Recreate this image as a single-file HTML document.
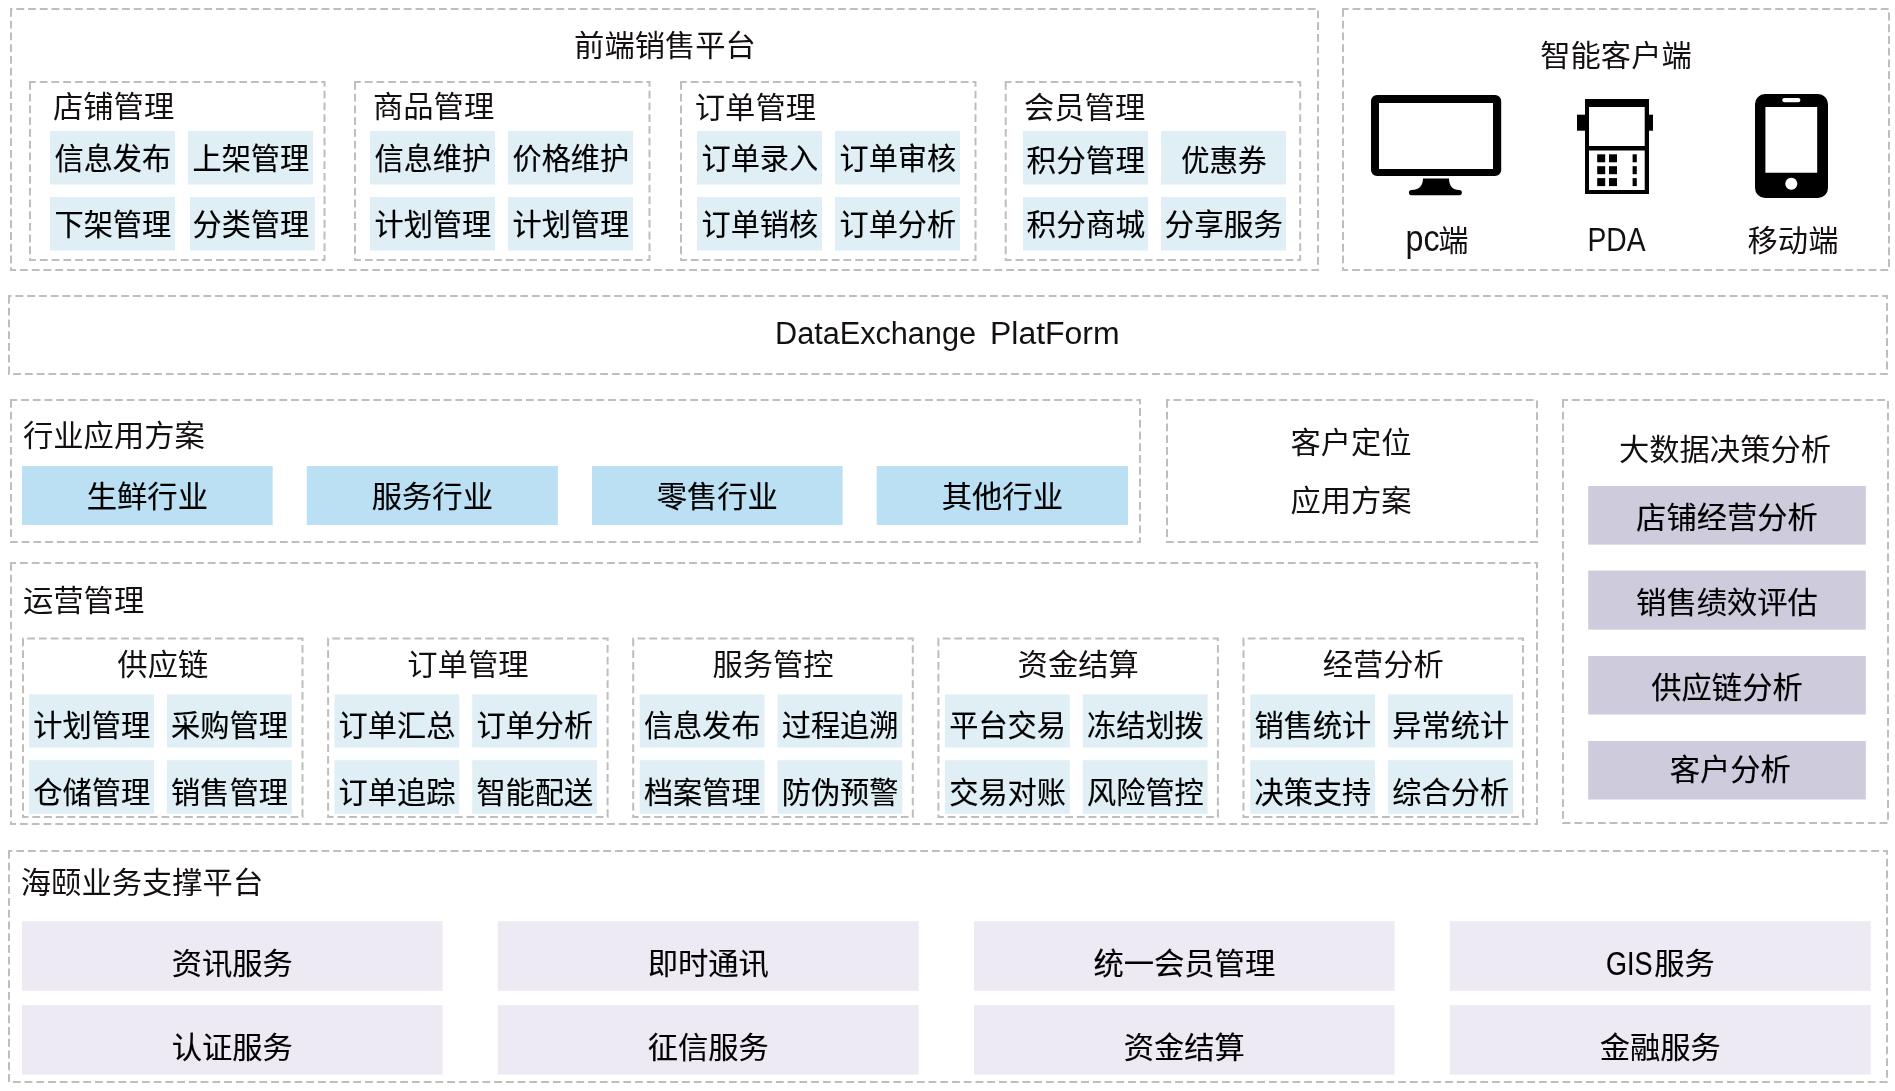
<!DOCTYPE html>
<html lang="zh-CN">
<head>
<meta charset="utf-8">
<title>平台架构图</title>
<style>
html,body{margin:0;padding:0;background:#fff;}
body{width:1895px;height:1091px;overflow:hidden;}
svg{display:block;will-change:transform;}
text{font-family:"Liberation Sans", "Noto Sans CJK SC", sans-serif;font-size:29.2px;fill:#141010;}
.k{fill:#000;stroke:#000;stroke-width:.15px;}
.d{fill:none;stroke:#c0bebc;stroke-width:2;stroke-dasharray:7.83 3.91;}
.c1{fill:#dfeff5;}
.c2{fill:#bbe0f4;}
.c3{fill:#cecbdd;}
.c4{fill:#eeeaf4;}
</style>
</head>
<body>
<svg width="1895" height="1091" viewBox="0 0 1895 1091">
<path class="d" d="M11 9V270H1318V9Z"/>
<text x="665" y="56" text-anchor="middle" textLength="181.8" lengthAdjust="spacingAndGlyphs">前端销售平台</text>
<path class="d" d="M30 82V260H324.5V82Z"/>
<text x="53" y="117" textLength="121.2" lengthAdjust="spacingAndGlyphs">店铺管理</text>
<rect class="c1" x="50" y="131" width="125" height="53.5"/>
<text x="112.8" y="169.4" text-anchor="middle" textLength="116.6" lengthAdjust="spacingAndGlyphs" class="k">信息发布</text>
<rect class="c1" x="188" y="131" width="125" height="53.5"/>
<text x="250.8" y="169.4" text-anchor="middle" textLength="116.6" lengthAdjust="spacingAndGlyphs" class="k">上架管理</text>
<rect class="c1" x="50" y="197" width="125" height="53.5"/>
<text x="112.8" y="235.4" text-anchor="middle" textLength="116.6" lengthAdjust="spacingAndGlyphs" class="k">下架管理</text>
<rect class="c1" x="190" y="197" width="125" height="53.5"/>
<text x="250.8" y="235.4" text-anchor="middle" textLength="116.6" lengthAdjust="spacingAndGlyphs" class="k">分类管理</text>
<path class="d" d="M355 82V260H649.5V82Z"/>
<text x="373" y="117" textLength="121.2" lengthAdjust="spacingAndGlyphs">商品管理</text>
<rect class="c1" x="370" y="131" width="125" height="53.5"/>
<text x="432.8" y="169.4" text-anchor="middle" textLength="116.6" lengthAdjust="spacingAndGlyphs" class="k">信息维护</text>
<rect class="c1" x="508" y="131" width="125" height="53.5"/>
<text x="570.8" y="169.4" text-anchor="middle" textLength="116.6" lengthAdjust="spacingAndGlyphs" class="k">价格维护</text>
<rect class="c1" x="370" y="197" width="125" height="53.5"/>
<text x="432.8" y="235.4" text-anchor="middle" textLength="116.6" lengthAdjust="spacingAndGlyphs" class="k">计划管理</text>
<rect class="c1" x="508" y="197" width="125" height="53.5"/>
<text x="570.8" y="235.4" text-anchor="middle" textLength="116.6" lengthAdjust="spacingAndGlyphs" class="k">计划管理</text>
<path class="d" d="M681 82V260H975.5V82Z"/>
<text x="694.8" y="118" textLength="121.2" lengthAdjust="spacingAndGlyphs">订单管理</text>
<rect class="c1" x="697" y="131" width="125" height="53.5"/>
<text x="759.8" y="169.4" text-anchor="middle" textLength="116.6" lengthAdjust="spacingAndGlyphs" class="k">订单录入</text>
<rect class="c1" x="835" y="131" width="125" height="53.5"/>
<text x="897.8" y="169.4" text-anchor="middle" textLength="116.6" lengthAdjust="spacingAndGlyphs" class="k">订单审核</text>
<rect class="c1" x="697" y="197" width="125" height="53.5"/>
<text x="759.8" y="235.4" text-anchor="middle" textLength="116.6" lengthAdjust="spacingAndGlyphs" class="k">订单销核</text>
<rect class="c1" x="835" y="197" width="125" height="53.5"/>
<text x="897.8" y="235.4" text-anchor="middle" textLength="116.6" lengthAdjust="spacingAndGlyphs" class="k">订单分析</text>
<path class="d" d="M1005.7 82V260H1300.2V82Z"/>
<text x="1024" y="118" textLength="121.2" lengthAdjust="spacingAndGlyphs">会员管理</text>
<rect class="c1" x="1023" y="131" width="125" height="53.5"/>
<text x="1085.8" y="170.6" text-anchor="middle" textLength="118.4" lengthAdjust="spacingAndGlyphs" class="k">积分管理</text>
<rect class="c1" x="1161" y="131" width="125" height="53.5"/>
<text x="1223.8" y="170.6" text-anchor="middle" textLength="85.5" lengthAdjust="spacingAndGlyphs" class="k">优惠券</text>
<rect class="c1" x="1023" y="197" width="125" height="53.5"/>
<text x="1085.8" y="235.4" text-anchor="middle" textLength="118.4" lengthAdjust="spacingAndGlyphs" class="k">积分商城</text>
<rect class="c1" x="1161" y="197" width="125" height="53.5"/>
<text x="1223.8" y="235.4" text-anchor="middle" textLength="118.4" lengthAdjust="spacingAndGlyphs" class="k">分享服务</text>
<path class="d" d="M1343 9V270H1889V9Z"/>
<text x="1616" y="66" text-anchor="middle" textLength="151.5" lengthAdjust="spacingAndGlyphs">智能客户端</text>
<text x="1405.5" y="251" style="font-size:37px" textLength="34" lengthAdjust="spacingAndGlyphs">pc</text>
<text x="1438.2" y="251" textLength="30.3" lengthAdjust="spacingAndGlyphs">端</text>
<text x="1587.5" y="251" style="font-size:33px" textLength="58" lengthAdjust="spacingAndGlyphs">PDA</text>
<text x="1793" y="251" text-anchor="middle" textLength="90.9" lengthAdjust="spacingAndGlyphs">移动端</text>
<g fill="#000">
<path fill-rule="evenodd" d="M1377 95h118.200a6 6 0 0 1 6 6v69a6 6 0 0 1-6 6H1377a6 6 0 0 1-6-6v-69a6 6 0 0 1 6-6zM1379 103v66h114v-66z"/>
<path d="M1423 178.500h26c0 7 3.500 11.500 10.300 11.500a2.600 2.600 0 0 1 0 5.200h-47.800a2.600 2.600 0 0 1 0-5.200c7.500 0 11.500-4.500 11.500-11.500z"/>
<path fill-rule="evenodd" d="M1585 99h64v95h-64zM1589 107v39h55.700v-39zM1589 150.400v39.600h55.700v-39.600z"/>
<rect x="1577" y="114.700" width="8.500" height="16"/><rect x="1648.500" y="114.700" width="4.500" height="16"/>
<rect x="1597.200" y="154.3" width="8" height="8"/><rect x="1609" y="154.3" width="8" height="8"/><rect x="1632.600" y="154.3" width="4.200" height="8"/>
<rect x="1597.200" y="166.2" width="8" height="8"/><rect x="1609" y="166.2" width="8" height="8"/><rect x="1632.600" y="166.2" width="4.200" height="8"/>
<rect x="1597.200" y="178.1" width="8" height="8"/><rect x="1609" y="178.1" width="8" height="8"/><rect x="1632.600" y="178.1" width="4.200" height="8"/>
<path fill-rule="evenodd" d="M1765 94h53a10 10 0 0 1 10 10v84a10 10 0 0 1-10 10h-53a10 10 0 0 1-10-10v-84a10 10 0 0 1 10-10zM1765.400 107v65.800h51.800v-65.800zM1784.400 97.900a2.200 2.200 0 0 0 0 4.400h13.800a2.200 2.200 0 0 0 0-4.400zM1791.300 177.700a6 6 0 1 0 0.001 0z"/>
</g>
<path class="d" d="M9 296V374H1887V296Z"/>
<text x="775" y="344.3" style="font-size:30.6px" textLength="201" lengthAdjust="spacingAndGlyphs">DataExchange</text>
<text x="990" y="344.3" style="font-size:30.6px" textLength="129.5" lengthAdjust="spacingAndGlyphs">PlatForm</text>
<path class="d" d="M11 400V542H1140V400Z"/>
<text x="23" y="446" textLength="181.8" lengthAdjust="spacingAndGlyphs">行业应用方案</text>
<rect class="c2" x="22" y="466" width="250.7" height="59"/>
<text x="147.35" y="507" text-anchor="middle" textLength="121.2" lengthAdjust="spacingAndGlyphs" class="k">生鲜行业</text>
<rect class="c2" x="306.8" y="466" width="251.1" height="59"/>
<text x="432.35" y="507" text-anchor="middle" textLength="121.2" lengthAdjust="spacingAndGlyphs" class="k">服务行业</text>
<rect class="c2" x="592" y="466" width="250.6" height="59"/>
<text x="717.3" y="507" text-anchor="middle" textLength="121.2" lengthAdjust="spacingAndGlyphs" class="k">零售行业</text>
<rect class="c2" x="876.7" y="466" width="251.3" height="59"/>
<text x="1002.35" y="507" text-anchor="middle" textLength="121.2" lengthAdjust="spacingAndGlyphs" class="k">其他行业</text>
<path class="d" d="M1167 400V542H1537V400Z"/>
<text x="1351" y="453" text-anchor="middle" textLength="121.2" lengthAdjust="spacingAndGlyphs">客户定位</text>
<text x="1351" y="511" text-anchor="middle" textLength="121.2" lengthAdjust="spacingAndGlyphs">应用方案</text>
<path class="d" d="M1563 400V823H1888V400Z"/>
<text x="1725" y="460" text-anchor="middle" textLength="212.1" lengthAdjust="spacingAndGlyphs">大数据决策分析</text>
<rect class="c3" x="1588.2" y="486" width="277.6" height="58.6"/>
<text x="1727" y="527.8000000000001" text-anchor="middle" textLength="181.8" lengthAdjust="spacingAndGlyphs" class="k">店铺经营分析</text>
<rect class="c3" x="1588.2" y="570.6" width="277.6" height="59.0"/>
<text x="1727" y="612.8000000000001" text-anchor="middle" textLength="181.8" lengthAdjust="spacingAndGlyphs" class="k">销售绩效评估</text>
<rect class="c3" x="1588.2" y="656" width="277.6" height="58.5"/>
<text x="1727" y="697.7" text-anchor="middle" textLength="151.5" lengthAdjust="spacingAndGlyphs" class="k">供应链分析</text>
<rect class="c3" x="1588.2" y="741" width="277.6" height="58.5"/>
<text x="1730.3" y="779.5" text-anchor="middle" textLength="121.2" lengthAdjust="spacingAndGlyphs" class="k">客户分析</text>
<path class="d" d="M11 563V824H1537V563Z"/>
<text x="23" y="611" textLength="121.2" lengthAdjust="spacingAndGlyphs">运营管理</text>
<path class="d" d="M23.0 638.5V817H302.5V638.5Z"/>
<text x="162.8" y="675" text-anchor="middle" textLength="90.9" lengthAdjust="spacingAndGlyphs">供应链</text>
<rect class="c1" x="29.1" y="694.4" width="124.8" height="53.1"/>
<text x="91.7" y="736.0" text-anchor="middle" textLength="116.8" lengthAdjust="spacingAndGlyphs" class="k">计划管理</text>
<rect class="c1" x="166.9" y="694.4" width="124.8" height="53.1"/>
<text x="229.5" y="736.0" text-anchor="middle" textLength="116.8" lengthAdjust="spacingAndGlyphs" class="k">采购管理</text>
<rect class="c1" x="29.1" y="760.2" width="124.8" height="53.6"/>
<text x="91.7" y="802.8" text-anchor="middle" textLength="116.8" lengthAdjust="spacingAndGlyphs" class="k">仓储管理</text>
<rect class="c1" x="166.9" y="760.2" width="124.8" height="53.6"/>
<text x="229.5" y="802.8" text-anchor="middle" textLength="116.8" lengthAdjust="spacingAndGlyphs" class="k">销售管理</text>
<path class="d" d="M328.1 638.5V817H607.6V638.5Z"/>
<text x="467.9" y="675" text-anchor="middle" textLength="121.2" lengthAdjust="spacingAndGlyphs">订单管理</text>
<rect class="c1" x="334.4" y="694.4" width="124.8" height="53.1"/>
<text x="397.0" y="736.0" text-anchor="middle" textLength="116.8" lengthAdjust="spacingAndGlyphs" class="k">订单汇总</text>
<rect class="c1" x="472.2" y="694.4" width="124.8" height="53.1"/>
<text x="534.8" y="736.0" text-anchor="middle" textLength="116.8" lengthAdjust="spacingAndGlyphs" class="k">订单分析</text>
<rect class="c1" x="334.4" y="760.2" width="124.8" height="53.6"/>
<text x="397.0" y="802.8" text-anchor="middle" textLength="116.8" lengthAdjust="spacingAndGlyphs" class="k">订单追踪</text>
<rect class="c1" x="472.2" y="760.2" width="124.8" height="53.6"/>
<text x="534.8" y="802.8" text-anchor="middle" textLength="116.8" lengthAdjust="spacingAndGlyphs" class="k">智能配送</text>
<path class="d" d="M633.2 638.5V817H912.8V638.5Z"/>
<text x="773.0" y="675" text-anchor="middle" textLength="121.2" lengthAdjust="spacingAndGlyphs">服务管控</text>
<rect class="c1" x="639.7" y="694.4" width="124.8" height="53.1"/>
<text x="702.3000000000001" y="736.0" text-anchor="middle" textLength="116.8" lengthAdjust="spacingAndGlyphs" class="k">信息发布</text>
<rect class="c1" x="777.5" y="694.4" width="124.8" height="53.1"/>
<text x="840.1" y="736.0" text-anchor="middle" textLength="116.8" lengthAdjust="spacingAndGlyphs" class="k">过程追溯</text>
<rect class="c1" x="639.7" y="760.2" width="124.8" height="53.6"/>
<text x="702.3000000000001" y="802.8" text-anchor="middle" textLength="116.8" lengthAdjust="spacingAndGlyphs" class="k">档案管理</text>
<rect class="c1" x="777.5" y="760.2" width="124.8" height="53.6"/>
<text x="840.1" y="802.8" text-anchor="middle" textLength="116.8" lengthAdjust="spacingAndGlyphs" class="k">防伪预警</text>
<path class="d" d="M938.4 638.5V817H1217.9V638.5Z"/>
<text x="1078.2" y="675" text-anchor="middle" textLength="121.2" lengthAdjust="spacingAndGlyphs">资金结算</text>
<rect class="c1" x="945.0" y="694.4" width="124.8" height="53.1"/>
<text x="1007.6" y="736.0" text-anchor="middle" textLength="116.8" lengthAdjust="spacingAndGlyphs" class="k">平台交易</text>
<rect class="c1" x="1082.8" y="694.4" width="124.8" height="53.1"/>
<text x="1145.3999999999999" y="736.0" text-anchor="middle" textLength="116.8" lengthAdjust="spacingAndGlyphs" class="k">冻结划拨</text>
<rect class="c1" x="945.0" y="760.2" width="124.8" height="53.6"/>
<text x="1007.6" y="802.8" text-anchor="middle" textLength="116.8" lengthAdjust="spacingAndGlyphs" class="k">交易对账</text>
<rect class="c1" x="1082.8" y="760.2" width="124.8" height="53.6"/>
<text x="1145.3999999999999" y="802.8" text-anchor="middle" textLength="116.8" lengthAdjust="spacingAndGlyphs" class="k">风险管控</text>
<path class="d" d="M1243.5 638.5V817H1523.0V638.5Z"/>
<text x="1383.3" y="675" text-anchor="middle" textLength="121.2" lengthAdjust="spacingAndGlyphs">经营分析</text>
<rect class="c1" x="1250.3" y="694.4" width="124.8" height="53.1"/>
<text x="1312.8999999999999" y="736.0" text-anchor="middle" textLength="116.8" lengthAdjust="spacingAndGlyphs" class="k">销售统计</text>
<rect class="c1" x="1388.1" y="694.4" width="124.8" height="53.1"/>
<text x="1450.6999999999998" y="736.0" text-anchor="middle" textLength="116.8" lengthAdjust="spacingAndGlyphs" class="k">异常统计</text>
<rect class="c1" x="1250.3" y="760.2" width="124.8" height="53.6"/>
<text x="1312.8999999999999" y="802.8" text-anchor="middle" textLength="116.8" lengthAdjust="spacingAndGlyphs" class="k">决策支持</text>
<rect class="c1" x="1388.1" y="760.2" width="124.8" height="53.6"/>
<text x="1450.6999999999998" y="802.8" text-anchor="middle" textLength="116.8" lengthAdjust="spacingAndGlyphs" class="k">综合分析</text>
<path class="d" d="M9 851V1082H1887V851Z"/>
<text x="20.8" y="893" textLength="242.4" lengthAdjust="spacingAndGlyphs">海颐业务支撑平台</text>
<rect class="c4" x="22" y="921.2" width="420.6" height="69.6"/>
<rect class="c4" x="22" y="1005.1" width="420.6" height="69.6"/>
<text x="232.3" y="974" text-anchor="middle" textLength="121.2" lengthAdjust="spacingAndGlyphs" class="k">资讯服务</text>
<text x="232.3" y="1058" text-anchor="middle" textLength="121.2" lengthAdjust="spacingAndGlyphs" class="k">认证服务</text>
<rect class="c4" x="497.7" y="921.2" width="421.1" height="69.6"/>
<rect class="c4" x="497.7" y="1005.1" width="421.1" height="69.6"/>
<text x="708.25" y="974" text-anchor="middle" textLength="121.2" lengthAdjust="spacingAndGlyphs" class="k">即时通讯</text>
<text x="708.25" y="1058" text-anchor="middle" textLength="121.2" lengthAdjust="spacingAndGlyphs" class="k">征信服务</text>
<rect class="c4" x="974" y="921.2" width="420.6" height="69.6"/>
<rect class="c4" x="974" y="1005.1" width="420.6" height="69.6"/>
<text x="1184.3" y="974" text-anchor="middle" textLength="181.8" lengthAdjust="spacingAndGlyphs" class="k">统一会员管理</text>
<text x="1184.3" y="1058" text-anchor="middle" textLength="121.2" lengthAdjust="spacingAndGlyphs" class="k">资金结算</text>
<rect class="c4" x="1449.8" y="921.2" width="421.0" height="69.6"/>
<rect class="c4" x="1449.8" y="1005.1" width="421.0" height="69.6"/>
<text x="1606" y="974.8" style="font-size:33px" textLength="46.5" lengthAdjust="spacingAndGlyphs" class="k">GIS</text>
<text x="1654.2" y="974" textLength="60.6" lengthAdjust="spacingAndGlyphs" class="k">服务</text>
<text x="1660.3" y="1058" text-anchor="middle" textLength="121.2" lengthAdjust="spacingAndGlyphs" class="k">金融服务</text>
</svg>
</body>
</html>
